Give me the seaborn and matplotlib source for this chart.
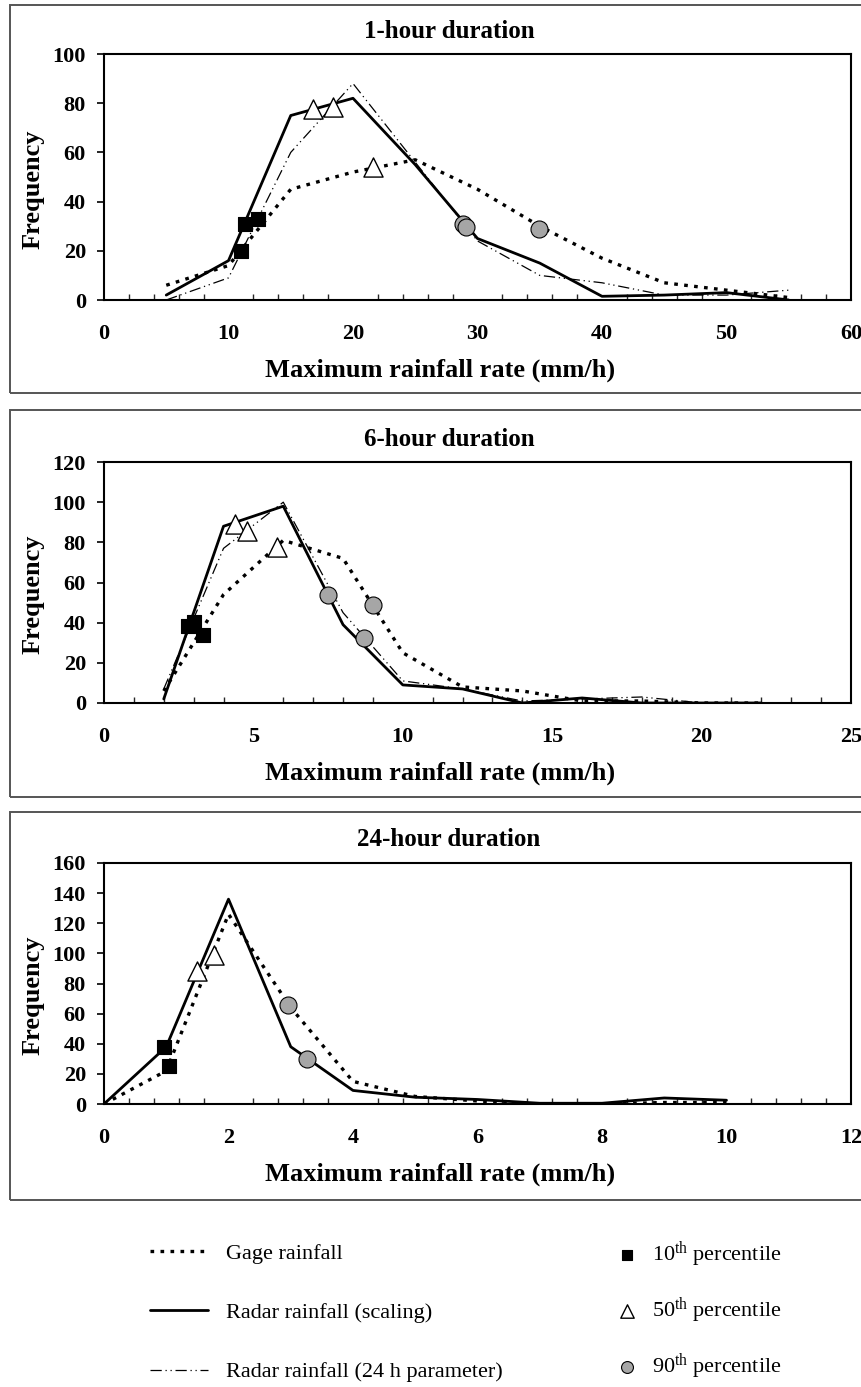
"""
Frequency of maximum rainfall rate for 1, 6 and 24 hour durations:
gage rainfall vs radar rainfall, with the percentile markers.
"""
import seaborn as sns
import matplotlib.pyplot as plt
from matplotlib.patches import Rectangle
from matplotlib.ticker import MultipleLocator

# 1-hour duration
X_1H = [5, 10, 15, 20, 25, 30, 35, 40, 45, 50, 55]
GAGE_1H = [6, 14, 45, 52, 57, 45, 30, 17, 7, 4, 1]
RADAR_1H = [2, 16, 75, 82, 55, 25, 15, 1.5, 2, 3, 0]
RADAR24_1H = [0, 9, 60, 88, 56, 24, 10, 7, 2, 2, 4]
P10_X_1H, P10_Y_1H = [11.0, 11.3, 12.4], [20, 31, 33]
P50_X_1H, P50_Y_1H = [16.8, 18.4, 21.6], [77.5, 78.5, 54]
P90_X_1H, P90_Y_1H = [28.8, 29.1, 34.9], [31, 29.5, 29]

# 6-hour duration
X_6H = [2, 4, 6, 8, 10, 12, 14, 16, 18, 20, 22]
GAGE_6H = [6, 54, 81, 72, 25, 8, 6, 1, 1, 0, 0]
RADAR_6H = [2, 88, 98, 39, 9, 7, 0, 2.5, 0, 0, 0]
RADAR24_6H = [7, 77, 100, 45, 11, 7, 1, 2, 3, 0, 0]
P10_X_6H, P10_Y_6H = [2.8, 3.0, 3.3], [38.5, 40.5, 34]
P50_X_6H, P50_Y_6H = [4.4, 4.8, 5.8], [89, 85.5, 77.5]
P90_X_6H, P90_Y_6H = [7.5, 9.0, 8.7], [54, 49, 32.5]

# 24-hour duration
X_24H = [0, 1, 2, 3, 4, 5, 6, 7, 8, 9, 10]
GAGE_24H = [0, 22, 126, 64, 15, 5, 2, 0, 0, 1, 1]
RADAR_24H = [0, 38, 136, 38, 9, 4.5, 3, 0.5, 0.5, 4, 2.5]
P10_X_24H, P10_Y_24H = [0.96, 1.04], [38, 25.5]
P50_X_24H, P50_Y_24H = [1.5, 1.76], [88.5, 99]
P90_X_24H, P90_Y_24H = [2.96, 3.26], [66, 30]

TITLES = ['1-hour duration', '6-hour duration', '24-hour duration']
XMAX = [60, 25, 12]
XMAJOR = [10, 5, 2]
XMINOR = [2, 1, 0.4]
YMAX = [100, 120, 160]

W, H = 861, 1387
# axes top / bottom in pixels, outer box top / bottom in pixels
AX_TOP = [54, 462, 863]
AX_BOT = [300, 703, 1104]
BOX_TOP = [5, 410, 812]
BOX_BOT = [393, 797, 1200]
AX_LEFT, AX_RIGHT = 104, 851

sns.set_theme(style='white')
plt.rcParams['font.family'] = ['Liberation Serif', 'DejaVu Serif']
plt.rcParams['mathtext.fontset'] = 'custom'
plt.rcParams['mathtext.rm'] = 'Liberation Serif'
plt.rcParams['mathtext.it'] = 'Liberation Serif:italic'

GAGE_STYLE = dict(color='black', lw=2.4, linestyle=(0, (1.1, 1.9)))
RADAR_STYLE = dict(color='black', lw=2.0, linestyle='-')
RADAR24_STYLE = dict(color='black', lw=0.9, linestyle=(0, (9, 3, 1, 3, 1, 3)))


def draw_panel(fig, i, x, gage, radar, radar24, pts):
    left = AX_LEFT / W
    width = (AX_RIGHT - AX_LEFT) / W
    bottom = 1 - AX_BOT[i] / H
    height = (AX_BOT[i] - AX_TOP[i]) / H
    ax = fig.add_axes([left, bottom, width, height])

    # outer chart box, open on the right like the cropped original
    fig.patches.append(Rectangle((10 / W, 1 - BOX_BOT[i] / H), 1.0,
                                 (BOX_BOT[i] - BOX_TOP[i]) / H,
                                 transform=fig.transFigure, fill=False,
                                 edgecolor='#555555', lw=1.4, zorder=0))

    h_gage = sns.lineplot(x=x, y=gage, ax=ax, **GAGE_STYLE).lines[-1]
    h_radar = sns.lineplot(x=x, y=radar, ax=ax, **RADAR_STYLE).lines[-1]
    h_r24 = None
    if radar24 is not None:
        h_r24 = sns.lineplot(x=x, y=radar24, ax=ax, **RADAR24_STYLE).lines[-1]

    (x10, y10), (x50, y50), (x90, y90) = pts
    sns.scatterplot(x=x10, y=y10, ax=ax, marker='s', s=110, color='black',
                    edgecolor='black', linewidth=0.8, zorder=4)
    h10 = ax.collections[-1]
    sns.scatterplot(x=x50, y=y50, ax=ax, marker='^', s=190, color='white',
                    edgecolor='black', linewidth=1.0, zorder=4)
    h50 = ax.collections[-1]
    sns.scatterplot(x=x90, y=y90, ax=ax, marker='o', s=150, color='#a6a6a6',
                    edgecolor='black', linewidth=0.8, zorder=4)
    h90 = ax.collections[-1]

    ax.set_xlim(0, XMAX[i])
    ax.set_ylim(0, YMAX[i])
    ax.xaxis.set_major_locator(MultipleLocator(XMAJOR[i]))
    ax.xaxis.set_minor_locator(MultipleLocator(XMINOR[i]))
    ax.yaxis.set_major_locator(MultipleLocator(20))
    for s in ax.spines.values():
        s.set_color('black')
        s.set_linewidth(1.5)
    ax.tick_params(axis='x', which='major', direction='out', length=6,
                   width=1.2, pad=11, labelsize=16, colors='black')
    ax.tick_params(axis='x', which='minor', direction='in', length=4,
                   width=1.0, bottom=True)
    ax.tick_params(axis='y', which='major', direction='out', length=5,
                   width=1.2, pad=8, labelsize=16, colors='black', left=True)
    for lab in ax.get_xticklabels() + ax.get_yticklabels():
        lab.set_fontweight('bold')
        lab.set_clip_on(False)

    hpx = AX_BOT[i] - AX_TOP[i]
    ax.set_xlabel('Maximum rainfall rate (mm/h)', fontsize=19,
                  fontweight='bold', color='black')
    ax.xaxis.set_label_coords((440 - AX_LEFT) / (AX_RIGHT - AX_LEFT),
                              -70 / hpx)
    ax.xaxis.label.set_va('center')
    ax.set_ylabel('Frequency', fontsize=19, fontweight='bold', color='black')
    ax.yaxis.set_label_coords((33 - AX_LEFT) / (AX_RIGHT - AX_LEFT), 0.45)
    ax.yaxis.label.set_va('center')
    ax.text((449 - AX_LEFT) / (AX_RIGHT - AX_LEFT), 1 + 23 / hpx, TITLES[i],
            transform=ax.transAxes, ha='center', va='center', fontsize=18,
            fontweight='bold', color='black')
    return (h_gage, h_radar, h_r24), (h10, h50, h90)


fig = plt.figure(figsize=(W / 100, H / 100), dpi=100)

line_handles, marker_handles = draw_panel(
    fig, 0, X_1H, GAGE_1H, RADAR_1H, RADAR24_1H,
    [(P10_X_1H, P10_Y_1H), (P50_X_1H, P50_Y_1H), (P90_X_1H, P90_Y_1H)])
draw_panel(fig, 1, X_6H, GAGE_6H, RADAR_6H, RADAR24_6H,
           [(P10_X_6H, P10_Y_6H), (P50_X_6H, P50_Y_6H), (P90_X_6H, P90_Y_6H)])
draw_panel(fig, 2, X_24H, GAGE_24H, RADAR_24H, None,
           [(P10_X_24H, P10_Y_24H), (P50_X_24H, P50_Y_24H),
            (P90_X_24H, P90_Y_24H)])

# legend, lines on the left, percentile markers on the right
leg1 = fig.legend(list(line_handles),
                  ['Gage rainfall', 'Radar rainfall (scaling)',
                   'Radar rainfall (24 h parameter)'],
                  loc='upper left', bbox_to_anchor=(150 / W, 1 - 1243 / H),
                  frameon=False, fontsize=16, handlelength=2.6,
                  handletextpad=0.8, labelspacing=1.75, borderpad=0,
                  borderaxespad=0)
for t in leg1.get_texts():
    t.set_color('black')

leg2 = fig.legend(list(marker_handles),
                  ['10$^{\\mathrm{th}}$ percentile', '50$^{\\mathrm{th}}$ percentile',
                   '90$^{\\mathrm{th}}$ percentile'],
                  loc='upper left', bbox_to_anchor=(616 / W, 1 - 1240 / H),
                  frameon=False, fontsize=16, handlelength=1.0,
                  handletextpad=0.6, labelspacing=1.15, borderpad=0,
                  borderaxespad=0, markerscale=0.7)
for t in leg2.get_texts():
    t.set_color('black')

fig.savefig('out.png', dpi=100, facecolor='white')
